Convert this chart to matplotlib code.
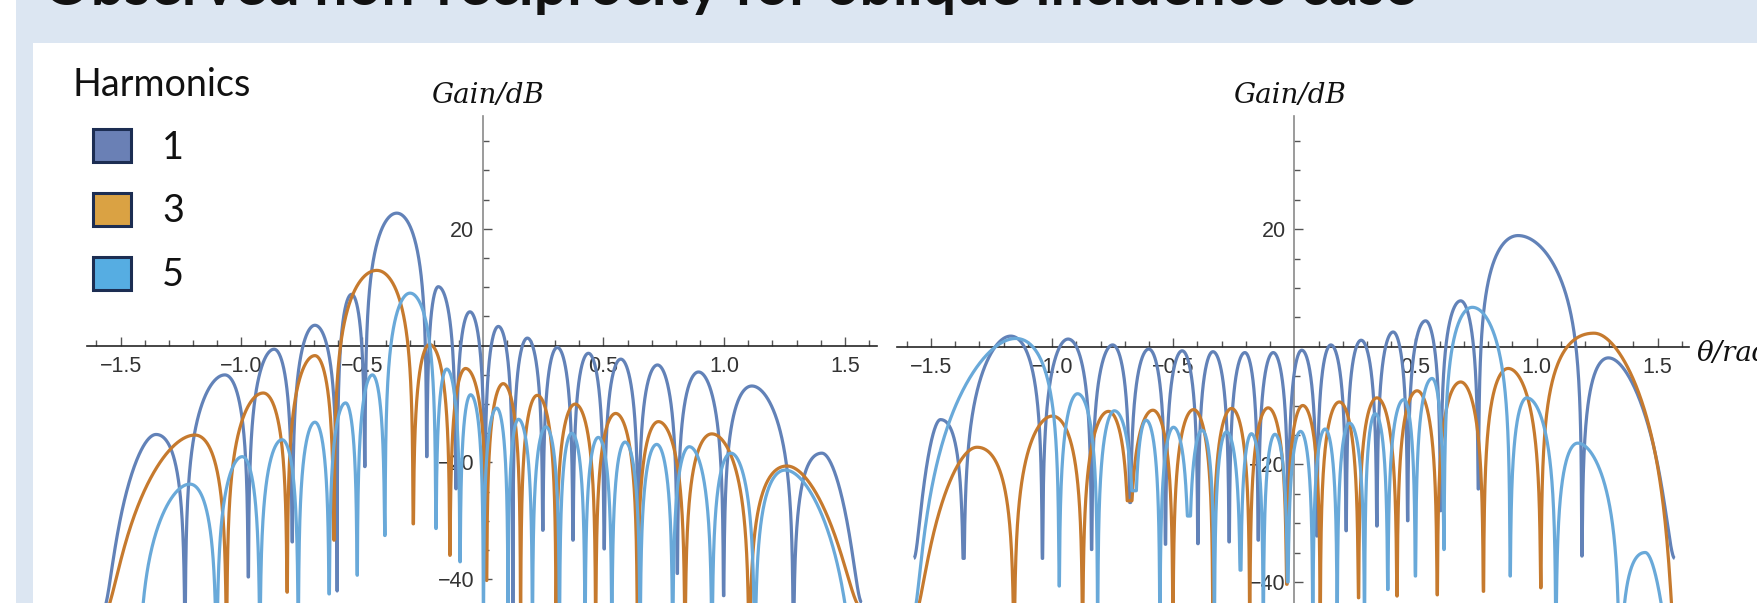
import numpy as np
import matplotlib
matplotlib.use("Agg")
import matplotlib.pyplot as plt
from matplotlib.patches import Rectangle
from matplotlib.ticker import FixedLocator

# ---- data: lobe peaks and the nulls between them (theta in rad, gain in dB)
# left panel
L1_peak_x = [-1.353, -1.068, -0.864, -0.695, -0.543, -0.356, -0.184, -0.053, 0.065, 0.185,
             0.309, 0.438, 0.572, 0.724, 0.894, 1.115, 1.405]
L1_peak_db = [-15.2, -5.0, -0.6, 3.5, 8.8, 22.7, 10.1, 5.8, 3.3, 1.3,
              -0.3, -1.3, -2.3, -3.3, -4.5, -6.9, -18.4]
L1_null_x = [-1.5708, -1.233, -0.971, -0.789, -0.603, -0.488, -0.232, -0.111, 0.008, 0.125,
             0.249, 0.374, 0.503, 0.645, 0.806, 0.998, 1.287, 1.5708]
L1_null_db = [-45, -50, -39.6, -33.6, -42, -20.7, -19.0, -24.5, -30, -46,
              -31.6, -33.3, -34.8, -46, -39, -42.8, -50, -44]

L3_peak_x = [-1.192, -0.909, -0.695, -0.439, -0.22, -0.071, 0.085, 0.226, 0.383, 0.551,
             0.728, 0.949, 1.26]
L3_peak_db = [-15.3, -8.1, -1.7, 12.9, 0.2, -3.9, -6.5, -8.5, -10.0, -11.6,
              -13.0, -15.1, -20.6]
L3_null_x = [-1.5708, -1.061, -0.81, -0.616, -0.288, -0.136, 0.016, 0.157, 0.304, 0.468,
             0.641, 0.838, 1.104, 1.5708]
L3_null_db = [-46, -50, -42.2, -33.3, -30.5, -35.9, -40.2, -50, -45, -50,
              -50, -50, -50, -45]

L5_peak_x = [-1.213, -0.996, -0.831, -0.695, -0.568, -0.457, -0.301, -0.149, -0.05, 0.058,
             0.148, 0.262, 0.369, 0.479, 0.590, 0.721, 0.856, 1.028, 1.253]
L5_peak_db = [-23.7, -19.0, -16.1, -13.1, -9.8, -5.0, 9.0, -4.0, -8.4, -10.7,
              -12.6, -13.9, -15.0, -15.7, -16.5, -16.9, -17.3, -18.4, -21.3]
L5_null_x = [-1.4275, -1.102, -0.923, -0.764, -0.636, -0.52, -0.405, -0.194, -0.094, 0.003,
             0.105, 0.206, 0.318, 0.424, 0.535, 0.652, 0.787, 0.95, 1.127, 1.552]
L5_null_db = [-60, -50, -50, -50, -42.5, -39.3, -32.5, -31.3, -37, -45,
              -50, -45, -45, -50, -50, -50, -50, -50, -50, -60]

# right panel
R1_peak_x = [-1.461, -1.171, -0.934, -0.75, -0.601, -0.463, -0.336, -0.204, -0.087, 0.031,
             0.151, 0.276, 0.408, 0.542, 0.687, 0.924, 1.297]
R1_peak_db = [-12.4, 1.8, 1.3, 0.3, -0.4, -0.7, -0.85, -1.0, -1.0, -0.6,
              0.3, 1.1, 2.5, 4.4, 7.8, 18.9, -1.9]
R1_null_x = [-1.5708, -1.365, -1.04, -0.837, -0.678, -0.532, -0.398, -0.269, -0.149, -0.025,
             0.093, 0.214, 0.341, 0.468, 0.604, 0.76, 1.187, 1.5708]
R1_null_db = [-36, -36, -36, -34.5, -26.5, -33.6, -33.5, -33.2, -32.9, -35,
              -32.2, -31.3, -30.5, -29.6, -27.9, -24.2, -35.6, -36]

R3_peak_x = [-1.31, -0.999, -0.767, -0.584, -0.416, -0.259, -0.108, 0.035, 0.186, 0.341,
             0.507, 0.687, 0.883, 1.237]
R3_peak_db = [-17.1, -11.8, -11.0, -10.8, -10.7, -10.5, -10.4, -10.0, -9.4, -8.7,
              -7.5, -6.0, -3.7, 2.3]
R3_null_x = [-1.5708, -1.157, -0.874, -0.681, -0.501, -0.336, -0.184, -0.031, 0.107, 0.265,
             0.424, 0.590, 0.781, 1.018, 1.5708]
R3_null_db = [-46, -50, -50, -26.2, -50, -50, -50, -40.4, -50, -42.7,
              -42.4, -42.2, -41.6, -41.0, -50]

R5_peak_x = [-1.15, -0.895, -0.743, -0.612, -0.499, -0.381, -0.28, -0.177, -0.08, 0.026,
             0.127, 0.228, 0.334, 0.452, 0.569, 0.735, 0.96, 1.17, 1.449]
R5_peak_db = [1.4, -8.0, -10.9, -12.5, -13.7, -14.2, -14.5, -14.8, -14.9, -14.4,
              -14.0, -13.0, -11.4, -9.0, -5.4, 6.7, -8.7, -16.4, -35.0]
R5_null_x = [-1.5708, -0.971, -0.812, -0.66, -0.555, -0.435, -0.33, -0.222, -0.128, -0.027,
             0.0765, 0.177, 0.29, 0.386, 0.50, 0.618, 0.891, 1.08, 1.343, 1.5708]
R5_null_db = [-45, -40.7, -46, -24.5, -46, -28.8, -46, -38, -46, -40,
              -46, -46, -45, -41.3, -39.0, -34.5, -39.0, -50, -50, -60]

harmonics = ["1", "3", "5"]
x_major = [-1.5, -1.0, -0.5, 0.5, 1.0, 1.5]
x_labels = ["\u22121.5", "\u22121.0", "\u22120.5", "0.5", "1.0", "1.5"]
y_major = [-40, -20, 20]
y_labels = ["\u221240", "\u221220", "20"]

line_colors = ["#6282b8", "#c67a2e", "#69a9d9"]
box_colors = ["#6a80b5", "#daa243", "#56ade2"]

W, H = 1757, 603
HALF_PI = np.pi / 2
fig = plt.figure(figsize=(W / 100, H / 100), dpi=100)
fig.patch.set_facecolor("white")

# slide background: light blue band, white panel
fig.add_artist(Rectangle((16 / W, 0), 1, 1, transform=fig.transFigure,
                         facecolor="#dce6f2", edgecolor="none", zorder=0))
fig.add_artist(Rectangle((32.7 / W, 0), 1, 1 - 43.3 / H, transform=fig.transFigure,
                         facecolor="white", edgecolor="none", zorder=0))


def lobe(xa, xp, xb, da, dp, db, n=150):
    # one lobe between two nulls, shaped as a sine in sin(theta)
    ua, up, ub = np.sin([xa, xp, xb])
    t0 = t1 = 0.0
    if xa <= -HALF_PI + 1e-6:
        t0 = np.arcsin(min(10 ** ((da - dp) / 20), 1.0)) / np.pi
        ua = (2 * t0 * up + 1) / (2 * t0 - 1)
    if xb >= HALF_PI - 1e-6:
        t1 = np.arcsin(min(10 ** ((db - dp) / 20), 1.0)) / np.pi
        ub = (1 - 2 * t1 * up) / (1 - 2 * t1)
    s = 1 - np.cos(np.linspace(0, HALF_PI, n))
    tl = t0 + (0.5 - t0) * s
    ul = ua + 2 * tl * (up - ua)
    yl = np.maximum(dp + 20 * np.log10(np.maximum(np.sin(np.pi * tl), 1e-9)), da)
    tr = t1 + (0.5 - t1) * s
    ur = ub - 2 * tr * (ub - up)
    yr = np.maximum(dp + 20 * np.log10(np.maximum(np.sin(np.pi * tr), 1e-9)), db)
    u = np.concatenate([ul, ur[::-1]])
    y = np.concatenate([yl, yr[::-1]])
    return np.arcsin(np.clip(u, -1, 1)), y


def draw_pattern(ax, peak_x, peak_db, null_x, null_db, color):
    xs, ys = [], []
    for i in range(len(peak_x)):
        x, y = lobe(null_x[i], peak_x[i], null_x[i + 1], null_db[i], peak_db[i], null_db[i + 1])
        xs.append(x)
        ys.append(y)
    ax.plot(np.concatenate(xs), np.concatenate(ys), color=color, lw=2.3,
            zorder=3, solid_joinstyle="round", solid_capstyle="butt")


def setup_axes(x0, sx, y0, sy, left_px, right_px, top_px):
    ax = fig.add_axes([left_px / W, 0, (right_px - left_px) / W, 1 - top_px / H])
    ax.set_xlim((left_px - x0) / sx, (right_px - x0) / sx)
    ax.set_ylim((y0 - H) / sy, (y0 - top_px) / sy)
    ax.patch.set_visible(False)
    ax.spines["top"].set_visible(False)
    ax.spines["right"].set_visible(False)
    ax.spines["left"].set_position(("data", 0))
    ax.spines["bottom"].set_position(("data", 0))
    ax.spines["left"].set_color("#8a8a8a")
    ax.spines["bottom"].set_color("#262626")
    ax.spines["left"].set_linewidth(1.2)
    ax.spines["bottom"].set_linewidth(1.2)
    ax.xaxis.set_major_locator(FixedLocator(x_major))
    ax.xaxis.set_minor_locator(FixedLocator([k / 10 for k in range(-16, 17) if k % 5]))
    ax.set_xticklabels(x_labels)
    ax.yaxis.set_major_locator(FixedLocator(y_major))
    ax.yaxis.set_minor_locator(FixedLocator([k for k in range(-40, 40, 5) if k % 20]))
    ax.set_yticklabels(y_labels)
    ax.tick_params(which="both", direction="in", color="#555555", width=1.0)
    ax.tick_params(which="major", length=6.5)
    ax.tick_params(which="minor", length=4)
    ax.tick_params(axis="x", pad=7.5, labelsize=15.5, labelcolor="#333333")
    ax.tick_params(axis="y", pad=6.0, labelsize=15.5, labelcolor="#333333")
    for lab in ax.get_xticklabels() + ax.get_yticklabels():
        lab.set_fontfamily("Liberation Sans")
    return ax


ax_l = setup_axes(482.7, 241.4, 345.7, 5.84, 87, 877, 116)
ax_r = setup_axes(1294.3, 242.2, 346.7, 5.88, 897, 1689, 116)

left_sets = [(L1_peak_x, L1_peak_db, L1_null_x, L1_null_db),
             (L3_peak_x, L3_peak_db, L3_null_x, L3_null_db),
             (L5_peak_x, L5_peak_db, L5_null_x, L5_null_db)]
right_sets = [(R1_peak_x, R1_peak_db, R1_null_x, R1_null_db),
              (R3_peak_x, R3_peak_db, R3_null_x, R3_null_db),
              (R5_peak_x, R5_peak_db, R5_null_x, R5_null_db)]
for (pk, pd, nx, nd), c in zip(left_sets, line_colors):
    draw_pattern(ax_l, pk, pd, nx, nd, c)
for (pk, pd, nx, nd), c in zip(right_sets, line_colors):
    draw_pattern(ax_r, pk, pd, nx, nd, c)

renderer = fig.canvas.get_renderer()


def fit_text(px, py, s, width, **kw):
    t = fig.text(px / W, 1 - py / H, s, va="baseline", **kw)
    w = t.get_window_extent(renderer).width
    t.set_fontsize(t.get_fontsize() * width / w)
    return t


# title (mostly cut off at the top of the slide)
fit_text(43, 5, "Observed non-reciprocity for oblique incidence case", 1371,
         fontfamily="Lato", fontweight="bold", fontsize=40, color="#111111")

# legend
leg = fit_text(72, 96, "Harmonics", 178, fontfamily="Lato", fontsize=28, color="#111111")
box_top = [129, 193, 257]
for lab, col, top in zip(harmonics, box_colors, box_top):
    fig.add_artist(Rectangle((92.7 / W, 1 - (top + 33) / H), 38 / W, 33 / H,
                             transform=fig.transFigure, facecolor=col,
                             edgecolor="#1c2d52", lw=2.2, zorder=5))
    fig.text(162 / W, 1 - (top + 16.5 + 13) / H, lab, va="baseline",
             fontfamily="Lato", fontsize=leg.get_fontsize(), color="#111111")

# axis labels
g = fit_text(431.7, 103, "Gain/dB", 113, fontfamily="DejaVu Serif", style="italic",
             fontsize=20, color="#111111")
fig.text(1233 / W, 1 - 103 / H, "Gain/dB", va="baseline", fontfamily="DejaVu Serif",
         style="italic", fontsize=g.get_fontsize(), color="#111111")
fig.text(1697 / W, 1 - 361 / H, "\u03b8/rad", va="baseline", fontfamily="DejaVu Serif",
         style="italic", fontsize=g.get_fontsize(), color="#111111")

fig.savefig("out.png", dpi=100, facecolor="white")
